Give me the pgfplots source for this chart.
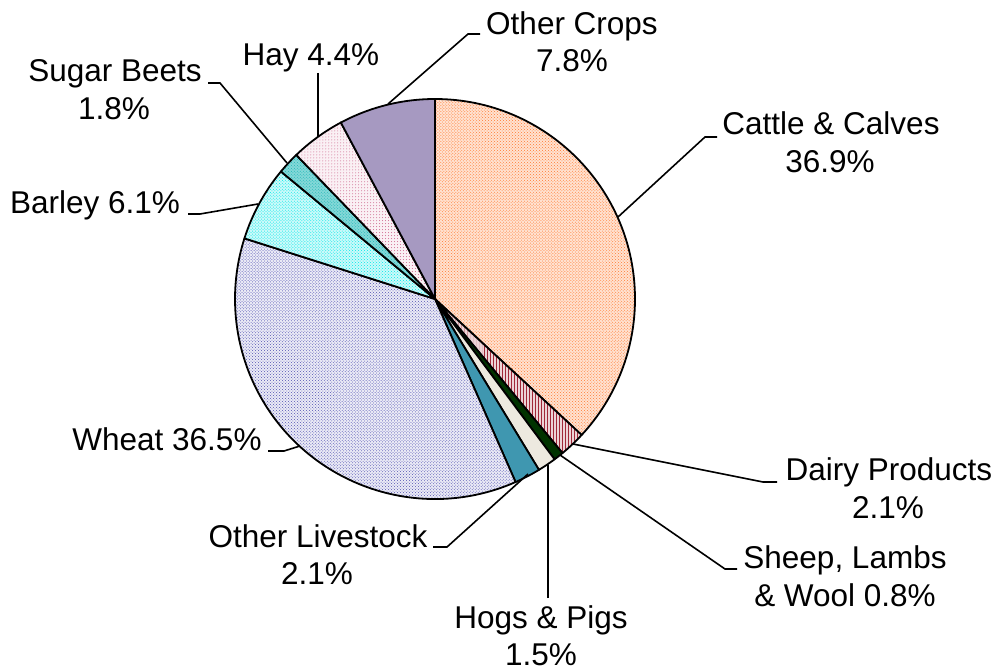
\documentclass[border=0pt]{standalone}
\usepackage{pgfplots}
\pgfplotsset{compat=1.18}
\usepackage{pgfplotstable}
\usetikzlibrary{patterns}
\usepackage{fontspec}
\setmainfont{Liberation Sans}

\definecolor{cattle}{HTML}{FF7A30}
\definecolor{dairy}{HTML}{A02838}
\definecolor{sheep}{HTML}{003300}
\definecolor{hogs}{HTML}{EDE9DF}
\definecolor{olive}{HTML}{3F97B0}
\definecolor{wheat}{HTML}{3535A5}
\definecolor{barley}{HTML}{00E8E8}
\definecolor{beets}{HTML}{20B8B8}
\definecolor{hay}{HTML}{C04070}
\definecolor{ocrops}{HTML}{A699C1}

\tikzset{
  pieline/.style={draw=black, line width=1.8bp, line join=round},
  slice0/.style={pieline, preaction={fill=cattle!22}, preaction={pattern=crosshatch dots, pattern color=cattle}},
  slice1/.style={pieline, preaction={fill=dairy!20}, preaction={pattern=vertical lines, pattern color=dairy}},
  slice2/.style={pieline, fill=sheep},
  slice3/.style={pieline, fill=hogs},
  slice4/.style={pieline, fill=olive},
  slice5/.style={pieline, preaction={fill=wheat!10}, preaction={pattern=crosshatch dots, pattern color=wheat!85}},
  slice6/.style={pieline, preaction={fill=barley!20}, preaction={pattern=crosshatch dots, pattern color=barley}},
  slice7/.style={pieline, preaction={fill=beets!55}, preaction={pattern=crosshatch dots, pattern color=beets}},
  slice8/.style={pieline, preaction={fill=hay!8}, preaction={pattern=dots, pattern color=hay!80}},
  slice9/.style={pieline, fill=ocrops},
  lbl/.style={anchor=base, font=\fontsize{31.5bp}{37bp}\selectfont, inner sep=0pt, outer sep=0pt},
  leader/.style={black, line width=1.6bp},
}

\pgfplotstableread[col sep=comma]{
label,value
Cattle & Calves,36.9
Dairy Products,2.1
Sheep Lambs & Wool,0.8
Hogs & Pigs,1.5
Other Livestock,2.1
Wheat,36.5
Barley,6.1
Sugar Beets,1.8
Hay,4.4
Other Crops,7.8
}\piedata

\begin{document}
\begin{tikzpicture}
\begin{axis}[
  name=ax,
  x=1bp, y=1bp,
  xmin=0, xmax=999, ymin=0, ymax=666,
  y dir=reverse,
  hide axis,
  clip=false,
  no marks,
]
% pie slices, clockwise from 12 o'clock
\pgfmathsetmacro\cum{0}
\pgfplotsforeachungrouped \i in {0,...,9}{%
  \pgfplotstablegetelem{\i}{value}\of\piedata
  \let\v\pgfplotsretval
  \pgfmathsetmacro\angA{90-3.6*\cum}%
  \pgfmathsetmacro\cum{\cum+\v}%
  \pgfmathsetmacro\angB{90-3.6*\cum}%
  \edef\temp{\noexpand\path[slice\i] (axis cs:435,299) -- ++(\angA:200bp) arc[start angle=\angA, end angle=\angB, radius=200bp] -- cycle;}%
  \temp
}

% leader lines
\addplot[leader] coordinates {(480,34) (468,34) (388,104)};
\addplot[leader] coordinates {(717,137) (705,137) (618,217)};
\addplot[leader] coordinates {(777,482) (763,482) (573,444)};
\addplot[leader] coordinates {(737,569) (725,569) (560,455)};
\addplot[leader] coordinates {(548,598) (548,465)};
\addplot[leader] coordinates {(433,547) (447,547) (528,474)};
\addplot[leader] coordinates {(268,451) (284,451) (300,446)};
\addplot[leader] coordinates {(188,214) (200,214) (258,204)};
\addplot[leader] coordinates {(208,83) (220,83) (287,163)};
\addplot[leader] coordinates {(318,73) (318,136)};

% labels
\node[lbl] at (axis cs:572,35) {Other Crops};
\node[lbl] at (axis cs:572,72) {7.8\%};
\node[lbl] at (axis cs:831,135) {Cattle \& Calves};
\node[lbl] at (axis cs:830,173) {36.9\%};
\node[lbl] at (axis cs:889,480) {Dairy Products};
\node[lbl] at (axis cs:888,518) {2.1\%};
\node[lbl] at (axis cs:845,568) {Sheep, Lambs};
\node[lbl] at (axis cs:845,606) {\& Wool 0.8\%};
\node[lbl] at (axis cs:541,628) {Hogs \& Pigs};
\node[lbl] at (axis cs:541,665) {1.5\%};
\node[lbl] at (axis cs:318,547) {Other Livestock};
\node[lbl] at (axis cs:317,584) {2.1\%};
\node[lbl] at (axis cs:167,450) {Wheat 36.5\%};
\node[lbl] at (axis cs:95,213) {Barley 6.1\%};
\node[lbl] at (axis cs:115,82) {Sugar Beets};
\node[lbl] at (axis cs:114,120) {1.8\%};
\node[lbl] at (axis cs:311,66) {Hay 4.4\%};
\end{axis}
\pgfresetboundingbox
\path[use as bounding box] (ax.south west) rectangle (ax.north east);
\end{tikzpicture}
\end{document}
